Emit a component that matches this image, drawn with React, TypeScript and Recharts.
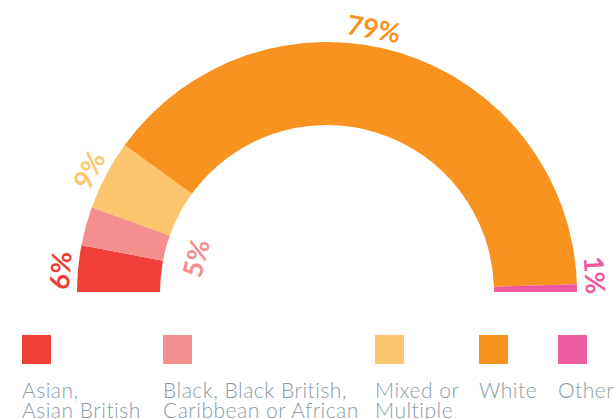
import { PieChart, Pie, Cell } from "recharts"

const categories = [
  "Asian,\nAsian British",
  "Black, Black British,\nCaribbean or African",
  "Mixed or\nMultiple",
  "White",
  "Other",
]
const shares = [6, 5, 9, 79, 1]
const colors = ["#EF3F37", "#F48F8D", "#FEC56F", "#F7931E", "#EE5AA0"]

const chartData = categories.map((name, i) => ({ name, value: shares[i] }))

// label tweaks (degrees added to the slice mid angle, radius)
const labelShift = [0.8, 0.8, 0.8, 7, 2.7]
const labelRadius = [268, 136, 268, 268, 269]
const legendLeft = [22, 163, 375, 479, 558]

const RAD = Math.PI / 180

// eslint-disable-next-line @typescript-eslint/no-explicit-any
const renderLabel = (props: any) => {
  const { cx, cy, midAngle, index, value } = props
  const angle = midAngle + labelShift[index]
  const r = labelRadius[index]
  const x = cx + r * Math.cos(angle * RAD)
  const y = cy - r * Math.sin(angle * RAD)
  return (
    <text
      x={x}
      y={y}
      fill={colors[index]}
      textAnchor="middle"
      dominantBaseline="central"
      fontFamily="Lato, sans-serif"
      fontWeight={700}
      fontSize={27}
      transform={`rotate(${90 - angle} ${x} ${y})`}
    >
      {value}%
    </text>
  )
}

export default function App() {
  return (
    <div style={{ position: "fixed", left: 0, top: 0, width: 614, height: 419, background: "#fff", overflow: "hidden" }}>
      <PieChart width={614} height={419} margin={{ top: 0, right: 0, bottom: 0, left: 0 }}>
        <Pie
          data={chartData}
          dataKey="value"
          cx={327}
          cy={292}
          startAngle={180}
          endAngle={0}
          innerRadius={167}
          outerRadius={250}
          stroke="none"
          label={renderLabel}
          labelLine={false}
          isAnimationActive={false}
        >
          {chartData.map((d, i) => (
            <Cell key={d.name} fill={colors[i]} />
          ))}
        </Pie>
      </PieChart>
      {categories.map((name, i) => (
        <div key={name} style={{ position: "absolute", left: legendLeft[i], top: 335 }}>
          <div style={{ width: 29, height: 29, background: colors[i] }} />
          <div
            style={{
              marginTop: 16,
              whiteSpace: "pre",
              fontFamily: "Lato, sans-serif",
              fontWeight: 300,
              fontSize: 21,
              letterSpacing: 0.5,
              lineHeight: "20px",
              color: "#8A9BA8",
            }}
          >
            {name}
          </div>
        </div>
      ))}
    </div>
  )
}
